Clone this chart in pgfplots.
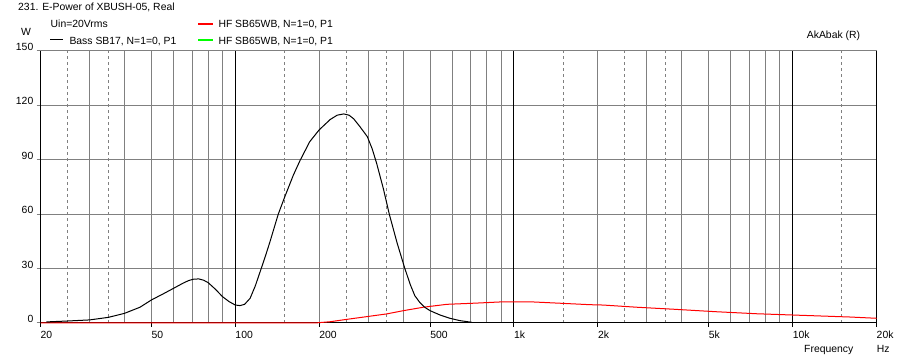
\documentclass[border=0pt]{standalone}
\usepackage{pgfplots}
\pgfplotsset{compat=1.18}
\usepackage{fontspec}
\setmainfont{Liberation Sans}
\definecolor{gridgray}{RGB}{128,128,128}
\definecolor{hfred}{RGB}{255,0,0}
\definecolor{hfgreen}{RGB}{0,255,0}
\newcommand{\fs}{\fontsize{10.4}{12}\selectfont}
\begin{document}
\begin{tikzpicture}
\path[use as bounding box] (0pt,0pt) rectangle (899pt,361pt);
\begin{axis}[
  at={(40.5pt,38pt)}, anchor=south west,
  scale only axis, width=836pt, height=272pt,
  xmode=log, xmin=20, xmax=20000, ymin=0, ymax=150,
  axis line style={draw=none},
  clip=false,
  xtick={20,50,100,200,500,1000,2000,5000,10000,20000},
  xticklabels={20,50,100,200,500,1k,2k,5k,10k,20k},
  ytick={0,30,60,90,120,150},
  minor xtick={},
  xtick pos=bottom, ytick pos=left, tick align=outside,
  major tick length=4pt,
  x tick style={black, line width=1pt},
  y tick style={gridgray, line width=1pt},
  ymajorgrids, major grid style={gridgray, line width=1pt},
  /pgf/number format/assume math mode=true,
  tick label style={font=\fs, inner sep=0pt},
  xticklabel style={anchor=west, yshift=-8pt},
  yticklabel style={anchor=east, yshift=4pt, xshift=-3pt},
]
\pgfplotsinvokeforeach{30,40,50,60,70,80,90,200,300,400,500,600,700,800,900,2000,3000,4000,5000,6000,7000,8000,9000}{
  \draw[gridgray, line width=1pt] (axis cs:#1,0) -- (axis cs:#1,150);}
\pgfplotsinvokeforeach{25,35,150,250,350,1500,2500,3500,15000}{
  \draw[gridgray, line width=1pt, dash pattern=on 3pt off 3pt] (axis cs:#1,0) -- (axis cs:#1,150);}
\pgfplotsinvokeforeach{100,1000,10000}{
  \draw[black, line width=1pt] (axis cs:#1,0) -- (axis cs:#1,150);}
\draw[gridgray, line width=1pt] (rel axis cs:0,1) -- (rel axis cs:1,1);
\draw[black, line width=1pt] (rel axis cs:0,0) -- (rel axis cs:1,0);
\draw[black, line width=1pt] (rel axis cs:0,0) -- (rel axis cs:0,1);
\draw[black, line width=1pt] (rel axis cs:1,0) -- (rel axis cs:1,1);

\addplot[hfred, line width=1pt] coordinates {
(20,0) (193,0) (219,0.7) (251,2.0) (296,3.5) (349,5.0) (401,6.8) (473,8.7)
(574,10.3) (715,10.9) (891,11.6) (1173,11.6) (1462,10.9) (1874,10.1) (2091,9.9)
(2756,8.7) (3729,7.6) (5337,6.2) (7429,5.1) (10920,4.2) (16060,3.3) (20000,2.6)
};
\addplot[black, line width=1pt] coordinates {
(21,0.6) (25,1.1) (30,1.7) (35,3.1) (40,5.3) (45.5,8.7) (50,12.7) (55,16.0)
(60,19.1) (65,22.0) (68,23.4) (71,24.2) (74,24.3) (77,23.6) (80,22.2) (85,18.5) (90,14.5) (95,11.8)
(100,9.9) (104,9.6) (108,10.3) (113,13.6) (118,20.5) (122.6,28) (128,36.5) (133,44.5) (142.6,60)
(150,69) (161.5,81.5) (170.6,89.5) (185,100) (200,106.5) (219,112.2) (232,114.6)
(245,115.3) (256,114.6) (266,112.6) (280,108.3) (297.6,102.8) (310,96) (321.6,88) (340,74)
(357,60) (381,44) (406,30) (425,21) (441,15) (460,11.2) (479,8.6) (500,6.8) (543,4.4) (589,2.6)
(640,1.3) (705,0.4)
};
\end{axis}
\node[anchor=base west, inner sep=0pt, font=\fs] at (18pt,350.3pt) {231. E-Power of XBUSH-05, Real};
\node[anchor=base west, inner sep=0pt, font=\fs] at (50.5pt,333pt) {Uin=20Vrms};
\node[anchor=base, inner sep=0pt, font=\fs] at (26pt,325.3pt) {W};
\draw[black, line width=1pt] (50pt,321pt) -- (63pt,321pt);
\node[anchor=base west, inner sep=0pt, font=\fs] at (69.3pt,316.7pt) {Bass SB17, N=1=0, P1};
\draw[red, line width=1.2pt] (198pt,337pt) -- (213pt,337pt);
\node[anchor=base west, inner sep=0pt, font=\fs] at (218.3pt,333pt) {HF SB65WB, N=1=0, P1};
\draw[hfgreen, line width=1.2pt] (198pt,321pt) -- (213pt,321pt);
\node[anchor=base west, inner sep=0pt, font=\fs] at (218.3pt,316.7pt) {HF SB65WB, N=1=0, P1};
\node[anchor=base west, inner sep=0pt, font=\fs] at (806.7pt,322.5pt) {AkAbak (R)};
\node[anchor=base west, inner sep=0pt, font=\fs] at (804pt,8.3pt) {Frequency};
\node[anchor=base west, inner sep=0pt, font=\fs] at (876.7pt,8.3pt) {Hz};
\end{tikzpicture}
\end{document}
